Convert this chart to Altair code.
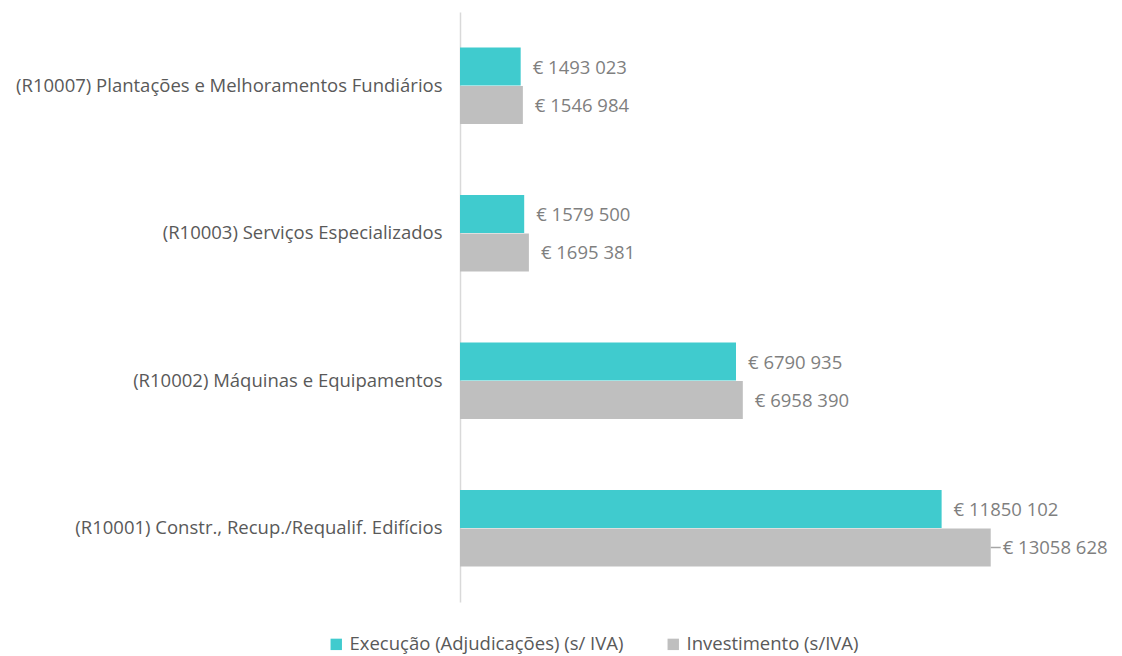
import altair as alt
import pandas as pd

categories = [
    "(R10007) Plantações e Melhoramentos Fundiários",
    "(R10003) Serviços Especializados",
    "(R10002) Máquinas e Equipamentos",
    "(R10001)  Constr., Recup./Requalif. Edifícios",
]
series = ["Execução (Adjudicações) (s/ IVA)", "Investimento (s/IVA)"]
execucao = [1493023, 1579500, 6790935, 11850102]
investimento = [1546984, 1695381, 6958390, 13058628]
colors = ["#40CBCE", "#BFBFBF"]

rows = []
for c, e, i in zip(categories, execucao, investimento):
    for s, v in zip(series, [e, i]):
        rows.append({"cat": c, "serie": s, "valor": v,
                     "label": f"€ {v // 1000} {v % 1000:03d}"})
df = pd.DataFrame(rows)

FONT = "Open Sans"
FS = 18.5

y = alt.Y("cat:N", sort=categories,
          scale=alt.Scale(paddingInner=0.478, paddingOuter=0.239),
          axis=alt.Axis(title=None, ticks=False, labelPadding=18,
                        labelFontSize=FS, labelColor="#595959", labelFont=FONT,
                        domainColor="#D9D9D9", domainWidth=1.5, labelLimit=500))
x = alt.X("valor:Q", scale=alt.Scale(domain=[0, 14000000]), axis=None)
yoff = alt.YOffset("serie:N", sort=series)

base = alt.Chart(df).encode(y=y, yOffset=yoff)

bars = base.mark_bar(size=38).encode(
    x=x,
    color=alt.Color("serie:N", sort=series,
                    scale=alt.Scale(domain=series, range=colors),
                    legend=alt.Legend(title=None, orient="none", direction="horizontal",
                                      legendX=-133, legendY=623, symbolType="square",
                                      symbolSize=130, symbolStrokeWidth=0, symbolOffset=0,
                                      labelFontSize=FS, labelColor="#595959",
                                      labelFont=FONT, columnPadding=40, labelLimit=400)),
)

texts = base.mark_text(align="left", dx=12, dy=1, fontSize=FS, color="#7F7F7F", font=FONT).encode(
    x=x, text="label:N"
)

lead = base.transform_filter(alt.datum.valor == max(investimento)).mark_rule(
    color="#A6A6A6", x2Offset=10, strokeWidth=1.5
).encode(x=x, x2="valor:Q")

chart = (bars + lead + texts).properties(
    width=569, height=590,
    padding={"left": 452, "top": 4, "right": 85, "bottom": 60},
    autosize="none",
).configure_view(stroke=None)

chart.save("out.html", embed_options={"renderer": "svg", "actions": False})
